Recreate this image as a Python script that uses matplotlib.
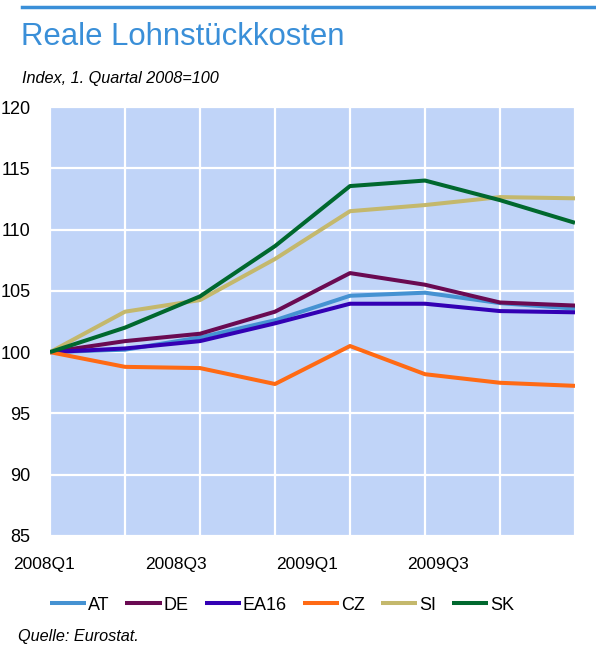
import matplotlib.pyplot as plt
import matplotlib.transforms as mtransforms
from matplotlib.lines import Line2D

plt.rcParams['font.family'] = ['Liberation Sans', 'DejaVu Sans']

quarters = ['2008Q1', '2008Q2', '2008Q3', '2008Q4', '2009Q1', '2009Q2', '2009Q3', '2009Q4']
at = [100, 100.2, 101.2, 102.6, 104.6, 104.85, 104.0, 103.55]
de = [100, 100.9, 101.5, 103.3, 106.45, 105.5, 104.05, 103.8]
ea16 = [100, 100.3, 100.9, 102.35, 103.95, 103.95, 103.35, 103.25]
cz = [100, 98.8, 98.7, 97.4, 100.5, 98.2, 97.5, 97.25]
si = [100, 103.3, 104.25, 107.6, 111.5, 112.0, 112.65, 112.55]
sk = [100, 102.0, 104.55, 108.65, 113.55, 114.0, 112.4, 110.55]

series = [('AT', at, '#4592d2'), ('DE', de, '#6a0a52'), ('EA16', ea16, '#3300b4'),
          ('CZ', cz, '#ff6a14'), ('SI', si, '#c4b86c'), ('SK', sk, '#00682e')]
label_quarters = ['2008Q1', '2008Q3', '2009Q1', '2009Q3']

fig = plt.figure(figsize=(5.96, 6.48), dpi=100)
ax = fig.add_axes([50 / 596, 1 - 536 / 648, 525 / 596, 429 / 648])
ax.set_facecolor('#c0d4f8')

x = list(range(len(quarters)))
for name, vals, col in series:
    ax.plot(x, vals, color=col, lw=2.9, label=name, solid_capstyle='butt')

ax.set_xlim(0, len(quarters) - 1)
ax.set_ylim(85, 120)
ax.set_yticks(range(85, 121, 5))
ax.set_xticks(x)
ax.set_xticklabels([])
ax.grid(True, color='white', lw=1.6)
ax.set_axisbelow(True)
for s in ax.spines.values():
    s.set_visible(False)
ax.tick_params(length=0, labelsize=13, pad=14)

# quarter labels sit a bit left of their ticks in the original
trans = mtransforms.blended_transform_factory(ax.transData, ax.transAxes)
for i, q in enumerate(label_quarters):
    ax.text(i * 1.753 - 0.08, -0.067, q, transform=trans, ha='center', va='center', fontsize=12.5)

# top rule, title and notes
fig.add_artist(Line2D([22 / 596, 1], [1 - 7 / 648] * 2, color='#3a8fd8', lw=2.5))
fig.text(21 / 596, 1 - 37 / 648, 'Reale Lohnstückkosten', color='#3a8fd8', fontsize=22.4,
         va='center', ha='left')
fig.text(22 / 596, 1 - 78 / 648, 'Index, 1. Quartal 2008=100', fontsize=11.7,
         style='italic', va='center', ha='left')
fig.text(18 / 596, 1 - 636 / 648, 'Quelle: Eurostat.', fontsize=11.7,
         style='italic', va='center', ha='left')

fig.legend(loc='center', bbox_to_anchor=(282 / 596, 1 - 605 / 648), ncol=6, frameon=False,
           fontsize=13, handlelength=2.0, handletextpad=0.1, columnspacing=0.9)

fig.savefig('out.png', dpi=100)
